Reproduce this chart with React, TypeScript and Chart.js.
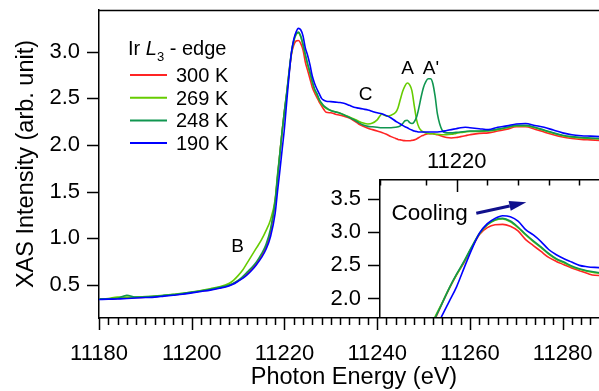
import React, { useEffect, useRef } from "react";
import { Chart, registerables } from "chart.js";

Chart.register(...registerables);

const FONT = "'Liberation Sans', Arial, Helvetica, sans-serif";

// Photon energy grid (eV)
const energies = [
  11180, 11182, 11184, 11186, 11188, 11190, 11192, 11194, 11196, 11198, 11200, 11202, 11204, 11206, 11208,
  11209, 11210, 11211, 11212, 11213, 11214, 11215, 11216, 11217, 11218,
  11218.5, 11219, 11219.5, 11220, 11220.5, 11221, 11221.5, 11222, 11222.5, 11223, 11223.5, 11224, 11224.5,
  11225, 11225.5, 11226, 11226.5, 11227, 11227.5, 11228, 11228.5, 11229,
  11230, 11231, 11232, 11233, 11234, 11235, 11236, 11237, 11238, 11239, 11240, 11241, 11242, 11243,
  11244, 11244.5, 11245, 11245.5, 11246, 11246.5, 11247, 11247.5, 11248, 11248.5, 11249, 11249.5,
  11250, 11250.5, 11251, 11251.5, 11252, 11252.5, 11253,
  11254, 11255, 11256, 11257, 11258, 11259, 11260,
  11262, 11264, 11266, 11268, 11270, 11272, 11274, 11276, 11278, 11280, 11282, 11284, 11286, 11288,
];

const xas300K = [
  0.35, 0.35, 0.355, 0.36, 0.365, 0.37, 0.375, 0.385, 0.395, 0.405, 0.42, 0.435, 0.45, 0.47, 0.495,
  0.515, 0.545, 0.58, 0.625, 0.675, 0.735, 0.81, 0.91, 1.07, 1.4,
  1.64, 1.9, 2.14, 2.36, 2.55, 2.77, 2.97, 3.07, 3.115, 3.12, 3.09, 3.02, 2.89, 2.8, 2.71, 2.62, 2.56, 2.51, 2.46, 2.42, 2.38, 2.35,
  2.345, 2.33, 2.32, 2.305, 2.29, 2.26, 2.225, 2.2, 2.18, 2.165, 2.15, 2.135, 2.115, 2.09,
  2.07, 2.06, 2.055, 2.05, 2.047, 2.045, 2.045, 2.05, 2.055, 2.065, 2.08, 2.095, 2.105, 2.115, 2.12, 2.12, 2.12, 2.115, 2.11,
  2.095, 2.08, 2.075, 2.08, 2.09, 2.1, 2.11,
  2.125, 2.13, 2.15, 2.17, 2.195, 2.195, 2.17, 2.14, 2.11, 2.085, 2.07, 2.06, 2.055, 2.05,
];

const xas269K = [
  0.35, 0.355, 0.37, 0.37, 0.37, 0.375, 0.38, 0.39, 0.4, 0.41, 0.425, 0.44, 0.46, 0.48, 0.515,
  0.55, 0.6, 0.66, 0.74, 0.82, 0.9, 0.98, 1.08, 1.2, 1.42,
  1.68, 1.91, 2.15, 2.36, 2.56, 2.78, 2.98, 3.11, 3.18, 3.2, 3.16, 3.07, 2.96, 2.86, 2.77, 2.67, 2.59, 2.54, 2.48, 2.44, 2.41, 2.39,
  2.37, 2.355, 2.34, 2.32, 2.3, 2.28, 2.255, 2.235, 2.225, 2.235, 2.27, 2.33, 2.31, 2.32,
  2.35, 2.4, 2.49, 2.575, 2.635, 2.665, 2.645, 2.58, 2.42, 2.27, 2.19, 2.155, 2.14, 2.13, 2.125, 2.12, 2.12, 2.115, 2.115,
  2.11, 2.11, 2.115, 2.125, 2.135, 2.14, 2.145,
  2.145, 2.15, 2.165, 2.185, 2.205, 2.205, 2.185, 2.155, 2.125, 2.1, 2.085, 2.075, 2.07, 2.065,
];

const xas248K = [
  0.35, 0.352, 0.357, 0.39, 0.37, 0.372, 0.378, 0.388, 0.398, 0.408, 0.423, 0.438, 0.455, 0.475, 0.5,
  0.52, 0.55, 0.59, 0.64, 0.69, 0.75, 0.83, 0.93, 1.1, 1.4,
  1.66, 1.9, 2.15, 2.37, 2.57, 2.79, 2.99, 3.12, 3.19, 3.21, 3.17, 3.08, 2.97, 2.87, 2.78, 2.68, 2.6, 2.55, 2.49, 2.45, 2.42, 2.4,
  2.37, 2.355, 2.34, 2.32, 2.295, 2.27, 2.24, 2.215, 2.2, 2.195, 2.19, 2.185, 2.185, 2.185,
  2.19, 2.195, 2.205, 2.23, 2.26, 2.265, 2.24, 2.23, 2.25, 2.3, 2.4, 2.52, 2.62, 2.68, 2.71, 2.71, 2.66, 2.52, 2.33,
  2.16, 2.13, 2.13, 2.135, 2.14, 2.145, 2.15,
  2.15, 2.155, 2.17, 2.19, 2.21, 2.21, 2.19, 2.16, 2.13, 2.105, 2.09, 2.08, 2.075, 2.07,
];

const xas190K = [
  0.345, 0.348, 0.35, 0.355, 0.36, 0.365, 0.37, 0.38, 0.39, 0.4, 0.415, 0.43, 0.445, 0.465, 0.49,
  0.51, 0.54, 0.57, 0.61, 0.66, 0.72, 0.79, 0.88, 1.02, 1.27,
  1.5, 1.72, 1.95, 2.18, 2.47, 2.75, 2.99, 3.13, 3.21, 3.25, 3.235, 3.17, 3.04, 2.96, 2.86, 2.74, 2.66, 2.6, 2.55, 2.5, 2.48, 2.47,
  2.465, 2.46, 2.455, 2.445, 2.425, 2.405, 2.395, 2.385, 2.375, 2.36, 2.345, 2.335, 2.315, 2.29,
  2.255, 2.24, 2.225, 2.21, 2.195, 2.185, 2.17, 2.16, 2.15, 2.145, 2.14, 2.14, 2.14, 2.14, 2.14, 2.14, 2.14, 2.14, 2.14,
  2.145, 2.155, 2.165, 2.175, 2.185, 2.19, 2.185,
  2.175, 2.165, 2.19, 2.205, 2.225, 2.23, 2.21, 2.19, 2.16, 2.13, 2.11, 2.1, 2.095, 2.09,
];

const seriesLabels = ["300 K", "269 K", "248 K", "190 K"];
const seriesValues = [xas300K, xas269K, xas248K, xas190K];
const seriesColors = ["#ff2424", "#66cc00", "#109650", "#0000ff"];

const mainXLabels = [11180, 11200, 11220, 11240, 11260, 11280];
const mainYLabels = [0.5, 1.0, 1.5, 2.0, 2.5, 3.0];
const insetXLabels = [11220];

const peakNotes = [
  { text: "A", e: 11246.54, v: 2.822 },
  { text: "A'", e: 11251.61, v: 2.822 },
  { text: "C", e: 11237.49, v: 2.541 },
  { text: "B", e: 11209.87, v: 0.907 },
];

const coolingNote = { text: "Cooling", e: 11215.75, v: 3.186 };
const coolingArrow = { e0: 11221.28, v0: 3.287, e1: 11224.54, v1: 3.453 };

function makeDatasets() {
  return seriesLabels.map((label, i) => ({
    label,
    data: energies.map((e, j) => ({ x: e, y: seriesValues[i][j] })),
    borderColor: seriesColors[i],
    backgroundColor: seriesColors[i],
    borderWidth: 1.6,
    pointRadius: 0,
    fill: false,
    cubicInterpolationMode: "monotone" as const,
    order: seriesLabels.length - i,
  }));
}

const mainPlugin = {
  id: "mainDecor",
  afterDraw(chart: any) {
    const ctx = chart.ctx;
    const { left, right, top, bottom } = chart.chartArea;
    const xs = chart.scales.x;
    const ys = chart.scales.y;
    ctx.save();
    ctx.strokeStyle = "#000";
    ctx.lineWidth = 1.5;
    // top frame
    ctx.beginPath();
    ctx.moveTo(left, top + 0.5);
    ctx.lineTo(right, top + 0.5);
    ctx.stroke();
    // x ticks
    ctx.beginPath();
    for (const t of xs.ticks) {
      const px = Math.round(xs.getPixelForValue(t.value)) + 0.5;
      const len = t.value % 20 === 0 ? 12 : 7;
      ctx.moveTo(px, bottom);
      ctx.lineTo(px, bottom + len);
    }
    // y ticks
    for (const t of ys.ticks) {
      const py = Math.round(ys.getPixelForValue(t.value)) + 0.5;
      ctx.moveTo(left - 12, py);
      ctx.lineTo(left, py);
    }
    ctx.stroke();

    // axis titles
    ctx.fillStyle = "#000";
    ctx.font = `23.5px ${FONT}`;
    ctx.textAlign = "center";
    ctx.textBaseline = "alphabetic";
    ctx.fillText("Photon Energy (eV)", (left + right) / 2, 384);
    ctx.save();
    ctx.translate(33, (top + bottom) / 2);
    ctx.rotate(-Math.PI / 2);
    ctx.fillText("XAS Intensity (arb. unit)", 0, 0);
    ctx.restore();

    // legend
    ctx.textAlign = "left";
    let x = left + 29;
    const ty = top + 45;
    ctx.font = `20px ${FONT}`;
    ctx.fillText("Ir ", x, ty);
    x += ctx.measureText("Ir ").width;
    ctx.font = `italic 20px ${FONT}`;
    ctx.fillText("L", x, ty);
    x += ctx.measureText("L").width;
    ctx.font = `13px ${FONT}`;
    ctx.fillText("3", x, ty + 5.5);
    x += ctx.measureText("3").width;
    ctx.font = `20px ${FONT}`;
    ctx.fillText(" - edge", x, ty);

    seriesLabels.forEach((lab, i) => {
      const ly = top + 65 + i * 22.7;
      ctx.strokeStyle = seriesColors[i];
      ctx.lineWidth = 2;
      ctx.beginPath();
      ctx.moveTo(left + 31, ly);
      ctx.lineTo(left + 68, ly);
      ctx.stroke();
      ctx.fillStyle = "#000";
      ctx.font = `20px ${FONT}`;
      ctx.fillText(lab, left + 77, ly + 7);
    });

    // peak annotations
    ctx.font = `19px ${FONT}`;
    ctx.textAlign = "center";
    ctx.textBaseline = "middle";
    for (const n of peakNotes) {
      ctx.fillText(n.text, xs.getPixelForValue(n.e), ys.getPixelForValue(n.v));
    }
    ctx.restore();
  },
};

const insetPlugin = {
  id: "insetDecor",
  beforeDraw(chart: any) {
    const { left, right, top, bottom } = chart.chartArea;
    const ctx = chart.ctx;
    ctx.save();
    ctx.fillStyle = "#fff";
    ctx.fillRect(left, top, right - left, bottom - top);
    ctx.restore();
  },
  afterDraw(chart: any) {
    const ctx = chart.ctx;
    const { left, top } = chart.chartArea;
    const xs = chart.scales.x;
    const ys = chart.scales.y;
    ctx.save();
    ctx.strokeStyle = "#000";
    ctx.lineWidth = 1.5;
    ctx.beginPath();
    for (const t of xs.ticks) {
      const px = Math.round(xs.getPixelForValue(t.value)) + 0.5;
      const len = t.value % 10 === 0 ? 12 : 5.5;
      ctx.moveTo(px, top);
      ctx.lineTo(px, top + len);
    }
    for (const t of ys.ticks) {
      const py = Math.round(ys.getPixelForValue(t.value)) + 0.5;
      ctx.moveTo(left - 12, py);
      ctx.lineTo(left, py);
    }
    ctx.stroke();

    // Cooling note + arrow
    ctx.fillStyle = "#000";
    ctx.font = `22.5px ${FONT}`;
    ctx.textAlign = "left";
    ctx.textBaseline = "alphabetic";
    ctx.fillText(coolingNote.text, xs.getPixelForValue(coolingNote.e), ys.getPixelForValue(coolingNote.v));

    const x0 = xs.getPixelForValue(coolingArrow.e0);
    const y0 = ys.getPixelForValue(coolingArrow.v0);
    const x1 = xs.getPixelForValue(coolingArrow.e1);
    const y1 = ys.getPixelForValue(coolingArrow.v1);
    const ang = Math.atan2(y1 - y0, x1 - x0);
    const headLen = 17;
    const headHalf = 5;
    const bx = x1 - headLen * Math.cos(ang);
    const by = y1 - headLen * Math.sin(ang);
    ctx.strokeStyle = "#10108c";
    ctx.fillStyle = "#10108c";
    ctx.lineWidth = 3;
    ctx.beginPath();
    ctx.moveTo(x0, y0);
    ctx.lineTo(bx, by);
    ctx.stroke();
    ctx.beginPath();
    ctx.moveTo(x1, y1);
    ctx.lineTo(bx + headHalf * Math.sin(ang), by - headHalf * Math.cos(ang));
    ctx.lineTo(bx - headHalf * Math.sin(ang), by + headHalf * Math.cos(ang));
    ctx.closePath();
    ctx.fill();
    ctx.restore();
  },
};

function mainConfig(): any {
  return {
    type: "line",
    data: { datasets: makeDatasets() },
    plugins: [mainPlugin],
    options: {
      animation: false,
      responsive: false,
      events: [],
      layout: { padding: { top: 10, right: 1, bottom: 0, left: 0 } },
      plugins: { legend: { display: false }, tooltip: { enabled: false } },
      scales: {
        x: {
          type: "linear",
          position: "bottom",
          min: 11180,
          max: 11290,
          grid: { display: false, drawTicks: false },
          border: { display: true, color: "#000", width: 1.5 },
          ticks: {
            stepSize: 2,
            autoSkip: false,
            maxRotation: 0,
            minRotation: 0,
            padding: 23,
            color: "#000",
            font: { size: 22, family: FONT },
            callback: (v: number) => (mainXLabels.includes(v) ? String(v) : ""),
          },
          afterFit: (s: any) => {
            s.height = 73;
            s.paddingLeft = 0;
            s.paddingRight = 0;
          },
        },
        y: {
          type: "linear",
          position: "left",
          min: 0.146,
          max: 3.447,
          grid: { display: false, drawTicks: false },
          border: { display: true, color: "#000", width: 1.5 },
          ticks: {
            stepSize: 0.5,
            includeBounds: false,
            padding: 19,
            color: "#000",
            font: { size: 22, family: FONT },
            callback: (v: number) =>
              mainYLabels.some((m) => Math.abs(m - v) < 1e-6) ? v.toFixed(1) : "",
          },
          afterFit: (s: any) => {
            s.width = 99;
            s.paddingTop = 0;
            s.paddingBottom = 0;
          },
        },
      },
    },
  };
}

function insetConfig(): any {
  return {
    type: "line",
    data: { datasets: makeDatasets() },
    plugins: [insetPlugin],
    options: {
      animation: false,
      responsive: false,
      events: [],
      layout: { padding: { top: 0, right: 0, bottom: 3, left: 0 } },
      plugins: { legend: { display: false }, tooltip: { enabled: false } },
      scales: {
        x: {
          type: "linear",
          position: "top",
          min: 11215,
          max: 11230,
          grid: { display: false, drawTicks: false },
          border: { display: true, color: "#000", width: 1.5 },
          ticks: {
            stepSize: 2,
            autoSkip: false,
            maxRotation: 0,
            minRotation: 0,
            padding: 5,
            color: "#000",
            font: { size: 22, family: FONT },
            callback: (v: number) => (insetXLabels.includes(v) ? String(v) : ""),
          },
          afterFit: (s: any) => {
            s.height = 40;
            s.paddingLeft = 0;
            s.paddingRight = 0;
          },
        },
        y: {
          type: "linear",
          position: "left",
          min: 1.72,
          max: 3.79,
          grid: { display: false, drawTicks: false },
          border: { display: true, color: "#000", width: 1.5 },
          ticks: {
            stepSize: 0.5,
            includeBounds: false,
            padding: 19,
            color: "#000",
            font: { size: 22, family: FONT },
            callback: (v: number) => v.toFixed(1),
          },
          afterFit: (s: any) => {
            s.width = 80;
            s.paddingTop = 0;
            s.paddingBottom = 0;
          },
        },
      },
    },
  };
}

export default function App() {
  const mainRef = useRef<HTMLCanvasElement>(null);
  const insetRef = useRef<HTMLCanvasElement>(null);

  useEffect(() => {
    Chart.defaults.font.family = FONT;
    Chart.defaults.color = "#000";
    const main = new Chart(mainRef.current as HTMLCanvasElement, mainConfig());
    const inset = new Chart(insetRef.current as HTMLCanvasElement, insetConfig());
    return () => {
      main.destroy();
      inset.destroy();
    };
  }, []);

  return (
    <div
      style={{
        position: "fixed",
        left: 0,
        top: 0,
        width: 599,
        height: 391,
        overflow: "hidden",
        background: "#fff",
      }}
    >
      <canvas
        ref={mainRef}
        width={610}
        height={391}
        style={{ position: "absolute", left: 0, top: 0, width: 610, height: 391 }}
      />
      <canvas
        ref={insetRef}
        width={310}
        height={180}
        style={{ position: "absolute", left: 300, top: 140, width: 310, height: 180 }}
      />
    </div>
  );
}
